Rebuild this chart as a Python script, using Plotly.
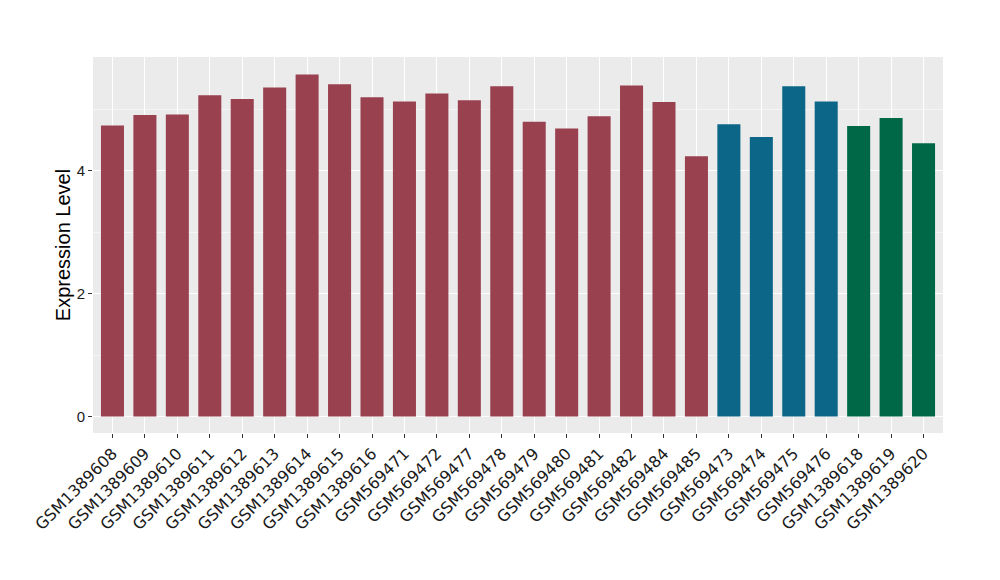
import plotly.graph_objects as go

samples = ["GSM1389608", "GSM1389609", "GSM1389610", "GSM1389611", "GSM1389612",
           "GSM1389613", "GSM1389614", "GSM1389615", "GSM1389616", "GSM569471",
           "GSM569472", "GSM569477", "GSM569478", "GSM569479", "GSM569480",
           "GSM569481", "GSM569482", "GSM569484", "GSM569485", "GSM569473",
           "GSM569474", "GSM569475", "GSM569476", "GSM1389618", "GSM1389619",
           "GSM1389620"]
values = [4.74, 4.91, 4.92, 5.23, 5.17, 5.36, 5.57, 5.41, 5.20, 5.13,
          5.26, 5.15, 5.38, 4.80, 4.69, 4.89, 5.39, 5.12, 4.24, 4.76,
          4.55, 5.38, 5.13, 4.73, 4.86, 4.45]
groups = ["A"] * 19 + ["B"] * 4 + ["C"] * 3
group_colors = {"A": "#9A4150", "B": "#0B6687", "C": "#006846"}

colors = [group_colors[g] for g in groups]

fig = go.Figure(go.Bar(x=samples, y=values, marker=dict(color=colors, line=dict(width=0)),
                       hoverinfo="x+y"))

fig.update_layout(
    width=1000, height=580,
    margin=dict(l=85, r=65, t=49, b=155),
    paper_bgcolor="white",
    plot_bgcolor="#EBEBEB",
    bargap=0.29,
    showlegend=False,
    font=dict(family="Liberation Sans, Arial, sans-serif", color="#1a1a1a"),
)
fig.update_xaxes(
    automargin=False,
    range=[-0.6, len(samples) - 0.4],
    tickangle=-45,
    tickfont=dict(family="DejaVu Sans", size=16, color="#1a1a1a"),
    showgrid=True, gridcolor="white", gridwidth=1.1,
    ticks="outside", ticklen=4, tickcolor="#333333", tickwidth=1,
    showline=False, zeroline=False,
)
fig.update_yaxes(
    automargin=False,
    range=[-0.27, 5.855],
    tickvals=[0, 2, 4],
    tickfont=dict(size=15, color="#1a1a1a"),
    title=dict(text="Expression Level", font=dict(size=20, color="black"), standoff=0),
    showgrid=True, gridcolor="white", gridwidth=1.1,
    minor=dict(tickvals=[1, 3, 5], showgrid=True, gridcolor="#F5F5F5", gridwidth=0.6, ticks=""),
    ticks="outside", ticklen=4, tickcolor="#333333", tickwidth=1,
    showline=False, zeroline=False,
)

fig.write_html("out.html")
